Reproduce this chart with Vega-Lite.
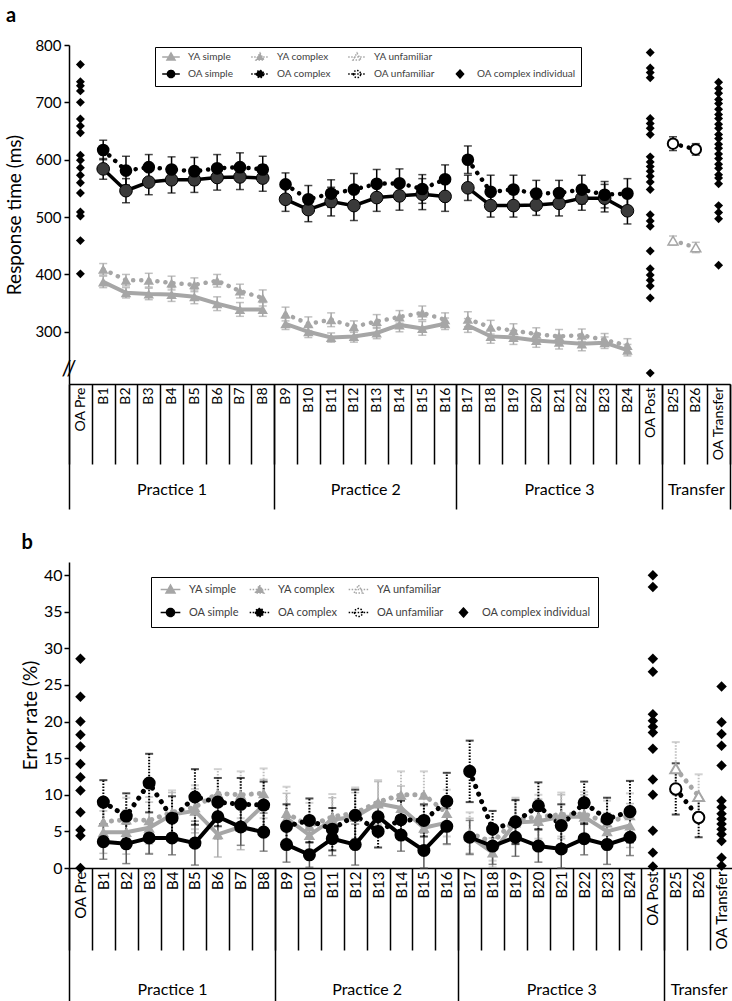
{
"$schema": "https://vega.github.io/schema/vega-lite/v6.json",
"padding": {"left": 5, "top": 6, "right": 0, "bottom": 0},
"config": {
  "font": "Lato",
  "view": {"stroke": null},
  "axis": {"grid": false, "domainColor": "black", "tickColor": "black", "labelColor": "black", "titleColor": "black", "titleFontWeight": "normal"},
  "legend": {"symbolOpacity": 1, "symbolFillColor": "white", "symbolStrokeColor": "black"},
  "title": {"color": "black"}
},
"datasets": {
"rt": [
{"block":"B1","series":"OA simple","grp":"P1","value":584,"err":18},
{"block":"B2","series":"OA simple","grp":"P1","value":546,"err":21},
{"block":"B3","series":"OA simple","grp":"P1","value":561,"err":22},
{"block":"B4","series":"OA simple","grp":"P1","value":565,"err":23},
{"block":"B5","series":"OA simple","grp":"P1","value":565,"err":22},
{"block":"B6","series":"OA simple","grp":"P1","value":569,"err":22},
{"block":"B7","series":"OA simple","grp":"P1","value":570,"err":22},
{"block":"B8","series":"OA simple","grp":"P1","value":568,"err":23},
{"block":"B9","series":"OA simple","grp":"P2","value":531,"err":21},
{"block":"B10","series":"OA simple","grp":"P2","value":513,"err":21},
{"block":"B11","series":"OA simple","grp":"P2","value":527,"err":25},
{"block":"B12","series":"OA simple","grp":"P2","value":520,"err":26},
{"block":"B13","series":"OA simple","grp":"P2","value":534,"err":24},
{"block":"B14","series":"OA simple","grp":"P2","value":537,"err":25},
{"block":"B15","series":"OA simple","grp":"P2","value":540,"err":27},
{"block":"B16","series":"OA simple","grp":"P2","value":536,"err":26},
{"block":"B17","series":"OA simple","grp":"P3","value":551,"err":22},
{"block":"B18","series":"OA simple","grp":"P3","value":520,"err":20},
{"block":"B19","series":"OA simple","grp":"P3","value":520,"err":20},
{"block":"B20","series":"OA simple","grp":"P3","value":521,"err":18},
{"block":"B21","series":"OA simple","grp":"P3","value":524,"err":22},
{"block":"B22","series":"OA simple","grp":"P3","value":533,"err":21},
{"block":"B23","series":"OA simple","grp":"P3","value":533,"err":24},
{"block":"B24","series":"OA simple","grp":"P3","value":511,"err":23},
{"block":"B1","series":"OA complex","grp":"P1","value":617,"err":17},
{"block":"B2","series":"OA complex","grp":"P1","value":581,"err":25},
{"block":"B3","series":"OA complex","grp":"P1","value":587,"err":22},
{"block":"B4","series":"OA complex","grp":"P1","value":583,"err":22},
{"block":"B5","series":"OA complex","grp":"P1","value":580,"err":24},
{"block":"B6","series":"OA complex","grp":"P1","value":585,"err":24},
{"block":"B7","series":"OA complex","grp":"P1","value":587,"err":25},
{"block":"B8","series":"OA complex","grp":"P1","value":583,"err":23},
{"block":"B9","series":"OA complex","grp":"P2","value":557,"err":20},
{"block":"B10","series":"OA complex","grp":"P2","value":531,"err":24},
{"block":"B11","series":"OA complex","grp":"P2","value":541,"err":24},
{"block":"B12","series":"OA complex","grp":"P2","value":548,"err":28},
{"block":"B13","series":"OA complex","grp":"P2","value":558,"err":25},
{"block":"B14","series":"OA complex","grp":"P2","value":559,"err":25},
{"block":"B15","series":"OA complex","grp":"P2","value":549,"err":25},
{"block":"B16","series":"OA complex","grp":"P2","value":566,"err":25},
{"block":"B17","series":"OA complex","grp":"P3","value":600,"err":24},
{"block":"B18","series":"OA complex","grp":"P3","value":544,"err":29},
{"block":"B19","series":"OA complex","grp":"P3","value":548,"err":25},
{"block":"B20","series":"OA complex","grp":"P3","value":541,"err":23},
{"block":"B21","series":"OA complex","grp":"P3","value":542,"err":22},
{"block":"B22","series":"OA complex","grp":"P3","value":548,"err":25},
{"block":"B23","series":"OA complex","grp":"P3","value":539,"err":23},
{"block":"B24","series":"OA complex","grp":"P3","value":541,"err":26},
{"block":"B1","series":"YA simple","grp":"P1","value":387,"err":10},
{"block":"B2","series":"YA simple","grp":"P1","value":368,"err":9},
{"block":"B3","series":"YA simple","grp":"P1","value":366,"err":10},
{"block":"B4","series":"YA simple","grp":"P1","value":365,"err":12},
{"block":"B5","series":"YA simple","grp":"P1","value":361,"err":12},
{"block":"B6","series":"YA simple","grp":"P1","value":349,"err":12},
{"block":"B7","series":"YA simple","grp":"P1","value":339,"err":12},
{"block":"B8","series":"YA simple","grp":"P1","value":339,"err":12},
{"block":"B9","series":"YA simple","grp":"P2","value":314,"err":10},
{"block":"B10","series":"YA simple","grp":"P2","value":300,"err":10},
{"block":"B11","series":"YA simple","grp":"P2","value":290,"err":8},
{"block":"B12","series":"YA simple","grp":"P2","value":292,"err":10},
{"block":"B13","series":"YA simple","grp":"P2","value":298,"err":10},
{"block":"B14","series":"YA simple","grp":"P2","value":312,"err":12},
{"block":"B15","series":"YA simple","grp":"P2","value":306,"err":12},
{"block":"B16","series":"YA simple","grp":"P2","value":314,"err":10},
{"block":"B17","series":"YA simple","grp":"P3","value":311,"err":12},
{"block":"B18","series":"YA simple","grp":"P3","value":292,"err":12},
{"block":"B19","series":"YA simple","grp":"P3","value":290,"err":12},
{"block":"B20","series":"YA simple","grp":"P3","value":285,"err":12},
{"block":"B21","series":"YA simple","grp":"P3","value":282,"err":12},
{"block":"B22","series":"YA simple","grp":"P3","value":279,"err":12},
{"block":"B23","series":"YA simple","grp":"P3","value":281,"err":10},
{"block":"B24","series":"YA simple","grp":"P3","value":268,"err":10},
{"block":"B1","series":"YA complex","grp":"P1","value":409,"err":10},
{"block":"B2","series":"YA complex","grp":"P1","value":390,"err":10},
{"block":"B3","series":"YA complex","grp":"P1","value":390,"err":12},
{"block":"B4","series":"YA complex","grp":"P1","value":385,"err":12},
{"block":"B5","series":"YA complex","grp":"P1","value":382,"err":12},
{"block":"B6","series":"YA complex","grp":"P1","value":389,"err":11},
{"block":"B7","series":"YA complex","grp":"P1","value":371,"err":12},
{"block":"B8","series":"YA complex","grp":"P1","value":359,"err":14},
{"block":"B9","series":"YA complex","grp":"P2","value":331,"err":12},
{"block":"B10","series":"YA complex","grp":"P2","value":314,"err":12},
{"block":"B11","series":"YA complex","grp":"P2","value":321,"err":12},
{"block":"B12","series":"YA complex","grp":"P2","value":309,"err":10},
{"block":"B13","series":"YA complex","grp":"P2","value":318,"err":12},
{"block":"B14","series":"YA complex","grp":"P2","value":326,"err":11},
{"block":"B15","series":"YA complex","grp":"P2","value":333,"err":12},
{"block":"B16","series":"YA complex","grp":"P2","value":321,"err":12},
{"block":"B17","series":"YA complex","grp":"P3","value":322,"err":13},
{"block":"B18","series":"YA complex","grp":"P3","value":308,"err":12},
{"block":"B19","series":"YA complex","grp":"P3","value":302,"err":12},
{"block":"B20","series":"YA complex","grp":"P3","value":296,"err":11},
{"block":"B21","series":"YA complex","grp":"P3","value":292,"err":12},
{"block":"B22","series":"YA complex","grp":"P3","value":294,"err":11},
{"block":"B23","series":"YA complex","grp":"P3","value":286,"err":11},
{"block":"B24","series":"YA complex","grp":"P3","value":276,"err":12},
{"block":"B25","series":"OA unfamiliar","grp":"T","value":628,"err":12},
{"block":"B26","series":"OA unfamiliar","grp":"T","value":618,"err":10},
{"block":"B25","series":"YA unfamiliar","grp":"T","value":459,"err":8},
{"block":"B26","series":"YA unfamiliar","grp":"T","value":447,"err":9},
{"block":"OA Pre","series":"OA complex individual","grp":"P1","value":766},
{"block":"OA Pre","series":"OA complex individual","grp":"P1","value":736},
{"block":"OA Pre","series":"OA complex individual","grp":"P1","value":729},
{"block":"OA Pre","series":"OA complex individual","grp":"P1","value":720},
{"block":"OA Pre","series":"OA complex individual","grp":"P1","value":700},
{"block":"OA Pre","series":"OA complex individual","grp":"P1","value":671},
{"block":"OA Pre","series":"OA complex individual","grp":"P1","value":659},
{"block":"OA Pre","series":"OA complex individual","grp":"P1","value":647},
{"block":"OA Pre","series":"OA complex individual","grp":"P1","value":608},
{"block":"OA Pre","series":"OA complex individual","grp":"P1","value":599},
{"block":"OA Pre","series":"OA complex individual","grp":"P1","value":586},
{"block":"OA Pre","series":"OA complex individual","grp":"P1","value":573},
{"block":"OA Pre","series":"OA complex individual","grp":"P1","value":560},
{"block":"OA Pre","series":"OA complex individual","grp":"P1","value":542},
{"block":"OA Pre","series":"OA complex individual","grp":"P1","value":509},
{"block":"OA Pre","series":"OA complex individual","grp":"P1","value":502},
{"block":"OA Pre","series":"OA complex individual","grp":"P1","value":459},
{"block":"OA Pre","series":"OA complex individual","grp":"P1","value":401},
{"block":"OA Post","series":"OA complex individual","grp":"P3","value":787},
{"block":"OA Post","series":"OA complex individual","grp":"P3","value":760},
{"block":"OA Post","series":"OA complex individual","grp":"P3","value":752},
{"block":"OA Post","series":"OA complex individual","grp":"P3","value":743},
{"block":"OA Post","series":"OA complex individual","grp":"P3","value":672},
{"block":"OA Post","series":"OA complex individual","grp":"P3","value":663},
{"block":"OA Post","series":"OA complex individual","grp":"P3","value":655},
{"block":"OA Post","series":"OA complex individual","grp":"P3","value":644},
{"block":"OA Post","series":"OA complex individual","grp":"P3","value":605},
{"block":"OA Post","series":"OA complex individual","grp":"P3","value":596},
{"block":"OA Post","series":"OA complex individual","grp":"P3","value":588},
{"block":"OA Post","series":"OA complex individual","grp":"P3","value":580},
{"block":"OA Post","series":"OA complex individual","grp":"P3","value":571},
{"block":"OA Post","series":"OA complex individual","grp":"P3","value":561},
{"block":"OA Post","series":"OA complex individual","grp":"P3","value":548},
{"block":"OA Post","series":"OA complex individual","grp":"P3","value":504},
{"block":"OA Post","series":"OA complex individual","grp":"P3","value":493},
{"block":"OA Post","series":"OA complex individual","grp":"P3","value":484},
{"block":"OA Post","series":"OA complex individual","grp":"P3","value":441},
{"block":"OA Post","series":"OA complex individual","grp":"P3","value":410},
{"block":"OA Post","series":"OA complex individual","grp":"P3","value":399},
{"block":"OA Post","series":"OA complex individual","grp":"P3","value":390},
{"block":"OA Post","series":"OA complex individual","grp":"P3","value":380},
{"block":"OA Post","series":"OA complex individual","grp":"P3","value":359},
{"block":"OA Post","series":"OA complex individual","grp":"P3","value":228},
{"block":"OA Transfer","series":"OA complex individual","grp":"T","value":735},
{"block":"OA Transfer","series":"OA complex individual","grp":"T","value":724},
{"block":"OA Transfer","series":"OA complex individual","grp":"T","value":716},
{"block":"OA Transfer","series":"OA complex individual","grp":"T","value":705},
{"block":"OA Transfer","series":"OA complex individual","grp":"T","value":698},
{"block":"OA Transfer","series":"OA complex individual","grp":"T","value":688},
{"block":"OA Transfer","series":"OA complex individual","grp":"T","value":679},
{"block":"OA Transfer","series":"OA complex individual","grp":"T","value":672},
{"block":"OA Transfer","series":"OA complex individual","grp":"T","value":662},
{"block":"OA Transfer","series":"OA complex individual","grp":"T","value":655},
{"block":"OA Transfer","series":"OA complex individual","grp":"T","value":644},
{"block":"OA Transfer","series":"OA complex individual","grp":"T","value":637},
{"block":"OA Transfer","series":"OA complex individual","grp":"T","value":627},
{"block":"OA Transfer","series":"OA complex individual","grp":"T","value":620},
{"block":"OA Transfer","series":"OA complex individual","grp":"T","value":610},
{"block":"OA Transfer","series":"OA complex individual","grp":"T","value":602},
{"block":"OA Transfer","series":"OA complex individual","grp":"T","value":592},
{"block":"OA Transfer","series":"OA complex individual","grp":"T","value":585},
{"block":"OA Transfer","series":"OA complex individual","grp":"T","value":574},
{"block":"OA Transfer","series":"OA complex individual","grp":"T","value":568},
{"block":"OA Transfer","series":"OA complex individual","grp":"T","value":558},
{"block":"OA Transfer","series":"OA complex individual","grp":"T","value":520},
{"block":"OA Transfer","series":"OA complex individual","grp":"T","value":508},
{"block":"OA Transfer","series":"OA complex individual","grp":"T","value":497},
{"block":"OA Transfer","series":"OA complex individual","grp":"T","value":416}
],
"er": [
{"block":"B1","series":"OA simple","grp":"P1","value":3.6,"err":2.4},
{"block":"B2","series":"OA simple","grp":"P1","value":3.3,"err":2.7},
{"block":"B3","series":"OA simple","grp":"P1","value":4.1,"err":2.2},
{"block":"B4","series":"OA simple","grp":"P1","value":4.1,"err":2.3},
{"block":"B5","series":"OA simple","grp":"P1","value":3.4,"err":3.0},
{"block":"B6","series":"OA simple","grp":"P1","value":7.0,"err":3.0},
{"block":"B7","series":"OA simple","grp":"P1","value":5.6,"err":2.5},
{"block":"B8","series":"OA simple","grp":"P1","value":4.9,"err":2.6},
{"block":"B9","series":"OA simple","grp":"P2","value":3.2,"err":2.4},
{"block":"B10","series":"OA simple","grp":"P2","value":1.8,"err":1.7},
{"block":"B11","series":"OA simple","grp":"P2","value":4.0,"err":2.3},
{"block":"B12","series":"OA simple","grp":"P2","value":3.2,"err":2.8},
{"block":"B13","series":"OA simple","grp":"P2","value":7.0,"err":2.0},
{"block":"B14","series":"OA simple","grp":"P2","value":4.5,"err":2.2},
{"block":"B15","series":"OA simple","grp":"P2","value":2.4,"err":2.4},
{"block":"B16","series":"OA simple","grp":"P2","value":5.7,"err":2.4},
{"block":"B17","series":"OA simple","grp":"P3","value":4.2,"err":2.3},
{"block":"B18","series":"OA simple","grp":"P3","value":3.0,"err":2.5},
{"block":"B19","series":"OA simple","grp":"P3","value":4.2,"err":2.6},
{"block":"B20","series":"OA simple","grp":"P3","value":3.0,"err":2.2},
{"block":"B21","series":"OA simple","grp":"P3","value":2.6,"err":2.6},
{"block":"B22","series":"OA simple","grp":"P3","value":4.0,"err":2.2},
{"block":"B23","series":"OA simple","grp":"P3","value":3.2,"err":2.7},
{"block":"B24","series":"OA simple","grp":"P3","value":4.2,"err":2.5},
{"block":"B1","series":"OA complex","grp":"P1","value":9.0,"err":3.0},
{"block":"B2","series":"OA complex","grp":"P1","value":7.1,"err":3.1},
{"block":"B3","series":"OA complex","grp":"P1","value":11.6,"err":4.0},
{"block":"B4","series":"OA complex","grp":"P1","value":6.8,"err":3.0},
{"block":"B5","series":"OA complex","grp":"P1","value":9.7,"err":3.8},
{"block":"B6","series":"OA complex","grp":"P1","value":9.0,"err":3.3},
{"block":"B7","series":"OA complex","grp":"P1","value":8.7,"err":3.6},
{"block":"B8","series":"OA complex","grp":"P1","value":8.6,"err":3.2},
{"block":"B9","series":"OA complex","grp":"P2","value":5.7,"err":3.0},
{"block":"B10","series":"OA complex","grp":"P2","value":6.5,"err":3.0},
{"block":"B11","series":"OA complex","grp":"P2","value":5.3,"err":2.9},
{"block":"B12","series":"OA complex","grp":"P2","value":7.2,"err":3.5},
{"block":"B13","series":"OA complex","grp":"P2","value":5.0,"err":2.2},
{"block":"B14","series":"OA complex","grp":"P2","value":6.6,"err":2.6},
{"block":"B15","series":"OA complex","grp":"P2","value":6.5,"err":2.2},
{"block":"B16","series":"OA complex","grp":"P2","value":9.1,"err":3.9},
{"block":"B17","series":"OA complex","grp":"P3","value":13.2,"err":4.2},
{"block":"B18","series":"OA complex","grp":"P3","value":5.3,"err":2.5},
{"block":"B19","series":"OA complex","grp":"P3","value":6.3,"err":3.0},
{"block":"B20","series":"OA complex","grp":"P3","value":8.5,"err":3.2},
{"block":"B21","series":"OA complex","grp":"P3","value":5.8,"err":2.9},
{"block":"B22","series":"OA complex","grp":"P3","value":8.9,"err":2.9},
{"block":"B23","series":"OA complex","grp":"P3","value":6.7,"err":2.9},
{"block":"B24","series":"OA complex","grp":"P3","value":7.7,"err":4.2},
{"block":"B1","series":"YA simple","grp":"P1","value":4.9,"err":2.9},
{"block":"B2","series":"YA simple","grp":"P1","value":4.9,"err":3.0},
{"block":"B3","series":"YA simple","grp":"P1","value":5.5,"err":3.5},
{"block":"B4","series":"YA simple","grp":"P1","value":7.3,"err":3.0},
{"block":"B5","series":"YA simple","grp":"P1","value":7.8,"err":3.0},
{"block":"B6","series":"YA simple","grp":"P1","value":4.6,"err":3.1},
{"block":"B7","series":"YA simple","grp":"P1","value":5.6,"err":3.1},
{"block":"B8","series":"YA simple","grp":"P1","value":8.6,"err":3.5},
{"block":"B9","series":"YA simple","grp":"P2","value":6.8,"err":3.4},
{"block":"B10","series":"YA simple","grp":"P2","value":4.5,"err":1.0},
{"block":"B11","series":"YA simple","grp":"P2","value":6.6,"err":3.0},
{"block":"B12","series":"YA simple","grp":"P2","value":7.0,"err":3.3},
{"block":"B13","series":"YA simple","grp":"P2","value":8.8,"err":3.0},
{"block":"B14","series":"YA simple","grp":"P2","value":8.2,"err":3.0},
{"block":"B15","series":"YA simple","grp":"P2","value":5.5,"err":3.0},
{"block":"B16","series":"YA simple","grp":"P2","value":6.2,"err":3.0},
{"block":"B17","series":"YA simple","grp":"P3","value":4.3,"err":2.5},
{"block":"B18","series":"YA simple","grp":"P3","value":2.1,"err":2.0},
{"block":"B19","series":"YA simple","grp":"P3","value":6.2,"err":3.0},
{"block":"B20","series":"YA simple","grp":"P3","value":6.4,"err":3.0},
{"block":"B21","series":"YA simple","grp":"P3","value":7.0,"err":3.0},
{"block":"B22","series":"YA simple","grp":"P3","value":7.0,"err":3.0},
{"block":"B23","series":"YA simple","grp":"P3","value":5.0,"err":2.5},
{"block":"B24","series":"YA simple","grp":"P3","value":5.8,"err":3.0},
{"block":"B1","series":"YA complex","grp":"P1","value":6.3,"err":3.0},
{"block":"B2","series":"YA complex","grp":"P1","value":6.6,"err":3.0},
{"block":"B3","series":"YA complex","grp":"P1","value":6.5,"err":3.2},
{"block":"B4","series":"YA complex","grp":"P1","value":7.6,"err":3.0},
{"block":"B5","series":"YA complex","grp":"P1","value":8.3,"err":3.0},
{"block":"B6","series":"YA complex","grp":"P1","value":10.2,"err":3.3},
{"block":"B7","series":"YA complex","grp":"P1","value":10.0,"err":3.2},
{"block":"B8","series":"YA complex","grp":"P1","value":10.2,"err":3.4},
{"block":"B9","series":"YA complex","grp":"P2","value":7.5,"err":3.6},
{"block":"B10","series":"YA complex","grp":"P2","value":5.7,"err":3.2},
{"block":"B11","series":"YA complex","grp":"P2","value":7.0,"err":3.1},
{"block":"B12","series":"YA complex","grp":"P2","value":7.5,"err":3.5},
{"block":"B13","series":"YA complex","grp":"P2","value":9.0,"err":3.0},
{"block":"B14","series":"YA complex","grp":"P2","value":10.0,"err":3.2},
{"block":"B15","series":"YA complex","grp":"P2","value":10.0,"err":3.2},
{"block":"B16","series":"YA complex","grp":"P2","value":7.5,"err":3.2},
{"block":"B17","series":"YA complex","grp":"P3","value":4.8,"err":2.8},
{"block":"B18","series":"YA complex","grp":"P3","value":3.5,"err":2.5},
{"block":"B19","series":"YA complex","grp":"P3","value":6.6,"err":3.0},
{"block":"B20","series":"YA complex","grp":"P3","value":7.0,"err":3.0},
{"block":"B21","series":"YA complex","grp":"P3","value":7.3,"err":3.0},
{"block":"B22","series":"YA complex","grp":"P3","value":7.4,"err":3.0},
{"block":"B23","series":"YA complex","grp":"P3","value":6.2,"err":3.0},
{"block":"B24","series":"YA complex","grp":"P3","value":7.2,"err":3.0},
{"block":"B25","series":"OA unfamiliar","grp":"T","value":10.8,"err":3.5},
{"block":"B26","series":"OA unfamiliar","grp":"T","value":6.9,"err":2.7},
{"block":"B25","series":"YA unfamiliar","grp":"T","value":13.6,"err":3.6},
{"block":"B26","series":"YA unfamiliar","grp":"T","value":9.8,"err":3.0},
{"block":"OA Pre","series":"OA complex individual","grp":"P1","value":28.6},
{"block":"OA Pre","series":"OA complex individual","grp":"P1","value":23.4},
{"block":"OA Pre","series":"OA complex individual","grp":"P1","value":20.0},
{"block":"OA Pre","series":"OA complex individual","grp":"P1","value":18.2},
{"block":"OA Pre","series":"OA complex individual","grp":"P1","value":16.6},
{"block":"OA Pre","series":"OA complex individual","grp":"P1","value":14.2},
{"block":"OA Pre","series":"OA complex individual","grp":"P1","value":12.4},
{"block":"OA Pre","series":"OA complex individual","grp":"P1","value":10.6},
{"block":"OA Pre","series":"OA complex individual","grp":"P1","value":7.6},
{"block":"OA Pre","series":"OA complex individual","grp":"P1","value":5.2},
{"block":"OA Pre","series":"OA complex individual","grp":"P1","value":4.4},
{"block":"OA Pre","series":"OA complex individual","grp":"P1","value":0},
{"block":"OA Post","series":"OA complex individual","grp":"P3","value":40.0},
{"block":"OA Post","series":"OA complex individual","grp":"P3","value":38.4},
{"block":"OA Post","series":"OA complex individual","grp":"P3","value":28.6},
{"block":"OA Post","series":"OA complex individual","grp":"P3","value":26.8},
{"block":"OA Post","series":"OA complex individual","grp":"P3","value":21.0},
{"block":"OA Post","series":"OA complex individual","grp":"P3","value":20.1},
{"block":"OA Post","series":"OA complex individual","grp":"P3","value":19.3},
{"block":"OA Post","series":"OA complex individual","grp":"P3","value":18.5},
{"block":"OA Post","series":"OA complex individual","grp":"P3","value":16.3},
{"block":"OA Post","series":"OA complex individual","grp":"P3","value":12.1},
{"block":"OA Post","series":"OA complex individual","grp":"P3","value":10.0},
{"block":"OA Post","series":"OA complex individual","grp":"P3","value":5.1},
{"block":"OA Post","series":"OA complex individual","grp":"P3","value":2.1},
{"block":"OA Post","series":"OA complex individual","grp":"P3","value":0.2},
{"block":"OA Transfer","series":"OA complex individual","grp":"T","value":24.8},
{"block":"OA Transfer","series":"OA complex individual","grp":"T","value":19.9},
{"block":"OA Transfer","series":"OA complex individual","grp":"T","value":18.3},
{"block":"OA Transfer","series":"OA complex individual","grp":"T","value":16.7},
{"block":"OA Transfer","series":"OA complex individual","grp":"T","value":14.0},
{"block":"OA Transfer","series":"OA complex individual","grp":"T","value":9.2},
{"block":"OA Transfer","series":"OA complex individual","grp":"T","value":8.3},
{"block":"OA Transfer","series":"OA complex individual","grp":"T","value":7.4},
{"block":"OA Transfer","series":"OA complex individual","grp":"T","value":6.7},
{"block":"OA Transfer","series":"OA complex individual","grp":"T","value":6.0},
{"block":"OA Transfer","series":"OA complex individual","grp":"T","value":5.3},
{"block":"OA Transfer","series":"OA complex individual","grp":"T","value":4.6},
{"block":"OA Transfer","series":"OA complex individual","grp":"T","value":3.7},
{"block":"OA Transfer","series":"OA complex individual","grp":"T","value":1.4},
{"block":"OA Transfer","series":"OA complex individual","grp":"T","value":0.3}
]
},
"spacing": 23,
"resolve": {
  "scale": {"shape": "independent", "fill": "independent", "stroke": "independent", "strokeDash": "independent"},
  "legend": {"shape": "independent", "fill": "independent", "stroke": "independent", "strokeDash": "independent"}
},
"vconcat": [
{
  "title": {"text": "a", "anchor": "start", "frame": "bounds", "fontSize": 20, "fontWeight": "bold", "offset": 12},
  "width": 661,
  "height": 339,
  "data": {"name": "rt"},
  "resolve": {"scale": {"x": "independent"}, "axis": {"x": "independent"}},
  "layer": [
    {
      "encoding": {
        "x": {"field": "block", "type": "nominal",
          "scale": {"type": "band", "domain": ["OA Pre","B1","B2","B3","B4","B5","B6","B7","B8","B9","B10","B11","B12","B13","B14","B15","B16","B17","B18","B19","B20","B21","B22","B23","B24","OA Post","B25","B26","OA Transfer"], "paddingInner": 0, "paddingOuter": 0},
          "axis": {"title": null, "labelAngle": -90, "labelAlign": "right", "labelBaseline": "middle", "labelFontSize": 14, "tickBand": "extent", "tickSize": 80, "tickWidth": 1.5, "domainWidth": 1.5, "labelPadding": -77, "labelOverlap": false}},
        "y": {"field": "value", "type": "quantitative",
          "scale": {"domain": [209, 800], "nice": false, "zero": false},
          "axis": {"title": "Response time (ms)", "values": [300,400,500,600,700,800], "labelFontSize": 15, "titleFontSize": 19, "tickSize": 5, "tickWidth": 1.5, "domainWidth": 1.5, "titlePadding": 10, "labelPadding": 3}}
      },
      "layer": [
        {"transform": [{"filter": "datum.err != null && test(/^YA/, datum.series)"}],
         "mark": {"type": "errorbar", "ticks": true, "size": 8, "thickness": 1.5, "color": "#a6a6a6"},
         "encoding": {"yError": {"field": "err"}}},
        {"transform": [{"filter": "datum.err != null && test(/^OA/, datum.series)"}],
         "mark": {"type": "errorbar", "ticks": true, "size": 8, "thickness": 1.5, "color": "black"},
         "encoding": {"yError": {"field": "err"}}},
        {"transform": [{"filter": "datum.series == 'YA simple'"}],
         "mark": {"type": "line", "color": "#a6a6a6", "strokeWidth": 4},
         "encoding": {"detail": {"field": "grp"}}},
        {"transform": [{"filter": "datum.series == 'YA complex' || datum.series == 'YA unfamiliar'"}],
         "mark": {"type": "line", "color": "#a6a6a6", "strokeWidth": 4.5, "strokeDash": [0.1, 8], "strokeCap": "round"},
         "encoding": {"detail": [{"field": "grp"}, {"field": "series"}]}},
        {"transform": [{"filter": "datum.series == 'OA simple'"}],
         "mark": {"type": "line", "color": "black", "strokeWidth": 3.5},
         "encoding": {"detail": {"field": "grp"}}},
        {"transform": [{"filter": "datum.series == 'OA complex' || datum.series == 'OA unfamiliar'"}],
         "mark": {"type": "line", "color": "black", "strokeWidth": 4.5, "strokeDash": [0.1, 8], "strokeCap": "round"},
         "encoding": {"detail": [{"field": "grp"}, {"field": "series"}]}},
        {"transform": [{"filter": "datum.series == 'YA simple' || datum.series == 'YA complex'"}],
         "mark": {"type": "point", "shape": "triangle-up", "filled": true, "color": "#a6a6a6", "size": 110, "opacity": 1}},
        {"transform": [{"filter": "datum.series == 'YA unfamiliar'"}],
         "mark": {"type": "point", "shape": "triangle-up", "filled": true, "fill": "white", "stroke": "#a6a6a6", "strokeWidth": 1.5, "size": 100, "opacity": 1}},
        {"transform": [{"filter": "datum.series == 'OA simple'"}],
         "mark": {"type": "point", "shape": "circle", "filled": true, "fill": "#3a3a3a", "stroke": "black", "strokeWidth": 1, "size": 160, "opacity": 1}},
        {"transform": [{"filter": "datum.series == 'OA complex'"}],
         "mark": {"type": "point", "shape": "circle", "filled": true, "color": "black", "size": 160, "opacity": 1}},
        {"transform": [{"filter": "datum.series == 'OA unfamiliar'"}],
         "mark": {"type": "point", "shape": "circle", "filled": true, "fill": "white", "stroke": "black", "strokeWidth": 2, "size": 110, "opacity": 1}},
        {"transform": [{"filter": "datum.series == 'OA complex individual'"}],
         "mark": {"type": "point", "shape": "diamond", "filled": true, "color": "black", "size": 80, "opacity": 1}},
        {"mark": {"type": "point", "filled": true, "opacity": 0},
         "encoding": {
           "shape": {"field": "series", "type": "nominal",
             "scale": {"domain": ["YA simple","YA complex","YA unfamiliar"," ","OA simple","OA complex","OA unfamiliar","OA complex individual"],
               "range": ["M-2.2,0H2.2M0,-1L1,0.75H-1Z","M-2.2,0H2.2M0,-1L1,0.75H-1Z","M-2.2,0H2.2M0,-1L1,0.75H-1Z","M0,0L0,0","M-2.2,0H2.2M-0.9,0A0.9,0.9 0 1,0 0.9,0A0.9,0.9 0 1,0 -0.9,0Z","M-2.2,0H2.2M-0.9,0A0.9,0.9 0 1,0 0.9,0A0.9,0.9 0 1,0 -0.9,0Z","M-2.2,0H2.2M-0.9,0A0.9,0.9 0 1,0 0.9,0A0.9,0.9 0 1,0 -0.9,0Z","M0,-1L0.9,0L0,1L-0.9,0Z"]},
             "legend": {"title": null, "orient": "none", "legendX": 86, "legendY": 2, "direction": "horizontal", "columns": 4, "strokeColor": "black", "padding": 5, "rowPadding": 4, "columnPadding": 14, "symbolSize": 64, "symbolStrokeWidth": 1.5, "symbolOffset": 6, "labelOffset": 12, "labelFontSize": 10, "labelColor": "#404040", "labelLimit": 200}},
           "fill": {"field": "series", "type": "nominal",
             "scale": {"domain": ["YA simple","YA complex","YA unfamiliar"," ","OA simple","OA complex","OA unfamiliar","OA complex individual"],
               "range": ["#a6a6a6","#a6a6a6","white","transparent","black","black","white","black"]},
             "legend": {"title": null, "orient": "none", "legendX": 86, "legendY": 2, "direction": "horizontal", "columns": 4, "strokeColor": "black", "padding": 5, "rowPadding": 4, "columnPadding": 14, "symbolSize": 64, "symbolStrokeWidth": 1.5, "symbolOffset": 6, "labelOffset": 12, "labelFontSize": 10, "labelColor": "#404040", "labelLimit": 200}},
           "stroke": {"field": "series", "type": "nominal",
             "scale": {"domain": ["YA simple","YA complex","YA unfamiliar"," ","OA simple","OA complex","OA unfamiliar","OA complex individual"],
               "range": ["#a6a6a6","#a6a6a6","#a6a6a6","transparent","black","black","black","black"]},
             "legend": {"title": null, "orient": "none", "legendX": 86, "legendY": 2, "direction": "horizontal", "columns": 4, "strokeColor": "black", "padding": 5, "rowPadding": 4, "columnPadding": 14, "symbolSize": 64, "symbolStrokeWidth": 1.5, "symbolOffset": 6, "labelOffset": 12, "labelFontSize": 10, "labelColor": "#404040", "labelLimit": 200}},
           "strokeDash": {"field": "series", "type": "nominal",
             "scale": {"domain": ["YA simple","YA complex","YA unfamiliar"," ","OA simple","OA complex","OA unfamiliar","OA complex individual"],
               "range": [[1,0],[1.5,1.5],[1.5,1.5],[1,0],[1,0],[1.5,1.5],[1.5,1.5],[1,0]]},
             "legend": {"title": null, "orient": "none", "legendX": 86, "legendY": 2, "direction": "horizontal", "columns": 4, "strokeColor": "black", "padding": 5, "rowPadding": 4, "columnPadding": 14, "symbolSize": 64, "symbolStrokeWidth": 1.5, "symbolOffset": 6, "labelOffset": 12, "labelFontSize": 10, "labelColor": "#404040", "labelLimit": 200}}
         }}
      ]
    },
    {
      "data": {"values": [{}]},
      "mark": {"type": "text", "text": "//", "fontSize": 22, "color": "black", "align": "center", "baseline": "middle"},
      "encoding": {
        "x": {"datum": 0, "type": "quantitative",
          "scale": {"domain": [0, 29], "nice": false, "zero": false},
          "axis": {"orient": "bottom", "title": null, "values": [0, 4.5, 9, 13, 17, 21.5, 26, 27.5, 29],
            "labelExpr": "datum.value == 4.5 ? 'Practice 1' : datum.value == 13 ? 'Practice 2' : datum.value == 21.5 ? 'Practice 3' : datum.value == 27.5 ? 'Transfer' : ''",
            "tickOpacity": {"condition": {"test": "datum.value == 4.5 || datum.value == 13 || datum.value == 21.5 || datum.value == 27.5", "value": 0}, "value": 1},
            "tickSize": 125, "tickWidth": 1.5, "domain": false, "labelAngle": 0, "labelAlign": "center", "labelBaseline": "top", "labelPadding": -28, "labelFontSize": 16, "labelFlush": false, "labelOverlap": false}},
        "y": {"datum": 236, "type": "quantitative"}
      }
    }
  ]
},
{
  "title": {"text": "b", "anchor": "start", "frame": "bounds", "fontSize": 20, "fontWeight": "bold", "offset": 9},
  "width": 664,
  "height": 306,
  "data": {"name": "er"},
  "resolve": {"scale": {"x": "independent"}, "axis": {"x": "independent"}},
  "layer": [
    {
      "encoding": {
        "x": {"field": "block", "type": "nominal",
          "scale": {"type": "band", "domain": ["OA Pre","B1","B2","B3","B4","B5","B6","B7","B8","B9","B10","B11","B12","B13","B14","B15","B16","B17","B18","B19","B20","B21","B22","B23","B24","OA Post","B25","B26","OA Transfer"], "paddingInner": 0, "paddingOuter": 0},
          "axis": {"title": null, "labelAngle": -90, "labelAlign": "right", "labelBaseline": "middle", "labelFontSize": 15, "tickBand": "extent", "tickSize": 82, "tickWidth": 1.5, "domainWidth": 1.5, "labelPadding": -79, "labelOverlap": false}},
        "y": {"field": "value", "type": "quantitative",
          "scale": {"domain": [0, 41.8], "nice": false, "zero": false},
          "axis": {"title": "Error rate (%)", "values": [0,5,10,15,20,25,30,35,40], "labelFontSize": 16, "titleFontSize": 19, "tickSize": 5, "tickWidth": 1.5, "domainWidth": 1.5, "titlePadding": 3, "labelPadding": 2}}
      },
      "layer": [
        {"transform": [{"filter": "datum.series == 'YA simple'"}],
         "mark": {"type": "errorbar", "ticks": true, "size": 8, "thickness": 1.5, "color": "#a6a6a6"},
         "encoding": {"yError": {"field": "err"}}},
        {"transform": [{"filter": "datum.series == 'YA complex' || datum.series == 'YA unfamiliar'"}],
         "mark": {"type": "errorbar", "ticks": {"strokeDash": [1.5, 1.5]}, "rule": {"strokeDash": [1.5, 1.5]}, "size": 8, "thickness": 2, "color": "#bfbfbf"},
         "encoding": {"yError": {"field": "err"}}},
        {"transform": [{"filter": "datum.series == 'OA simple'"}],
         "mark": {"type": "errorbar", "ticks": true, "size": 8, "thickness": 1.5, "color": "#595959"},
         "encoding": {"yError": {"field": "err"}}},
        {"transform": [{"filter": "datum.series == 'OA complex' || datum.series == 'OA unfamiliar'"}],
         "mark": {"type": "errorbar", "ticks": {"strokeDash": [1.5, 1.5]}, "rule": {"strokeDash": [1.5, 1.5]}, "size": 8, "thickness": 2, "color": "black"},
         "encoding": {"yError": {"field": "err"}}},
        {"transform": [{"filter": "datum.series == 'YA simple'"}],
         "mark": {"type": "line", "color": "#a6a6a6", "strokeWidth": 4},
         "encoding": {"detail": {"field": "grp"}}},
        {"transform": [{"filter": "datum.series == 'YA complex' || datum.series == 'YA unfamiliar'"}],
         "mark": {"type": "line", "color": "#a6a6a6", "strokeWidth": 5, "strokeDash": [0.1, 8], "strokeCap": "round"},
         "encoding": {"detail": [{"field": "grp"}, {"field": "series"}]}},
        {"transform": [{"filter": "datum.series == 'OA simple'"}],
         "mark": {"type": "line", "color": "black", "strokeWidth": 4},
         "encoding": {"detail": {"field": "grp"}}},
        {"transform": [{"filter": "datum.series == 'OA complex' || datum.series == 'OA unfamiliar'"}],
         "mark": {"type": "line", "color": "black", "strokeWidth": 5, "strokeDash": [0.1, 8], "strokeCap": "round"},
         "encoding": {"detail": [{"field": "grp"}, {"field": "series"}]}},
        {"transform": [{"filter": "datum.series == 'YA simple' || datum.series == 'YA complex'"}],
         "mark": {"type": "point", "shape": "triangle-up", "filled": true, "color": "#a6a6a6", "size": 130, "opacity": 1}},
        {"transform": [{"filter": "datum.series == 'YA unfamiliar'"}],
         "mark": {"type": "point", "shape": "triangle-up", "filled": true, "fill": "white", "stroke": "#a6a6a6", "strokeWidth": 2, "size": 120, "opacity": 1}},
        {"transform": [{"filter": "datum.series == 'OA simple'"}],
         "mark": {"type": "point", "shape": "circle", "filled": true, "color": "black", "size": 170, "opacity": 1}},
        {"transform": [{"filter": "datum.series == 'OA complex'"}],
         "mark": {"type": "point", "shape": "circle", "filled": true, "color": "black", "size": 170, "opacity": 1}},
        {"transform": [{"filter": "datum.series == 'OA unfamiliar'"}],
         "mark": {"type": "point", "shape": "circle", "filled": true, "fill": "white", "stroke": "black", "strokeWidth": 2, "size": 130, "opacity": 1}},
        {"transform": [{"filter": "datum.series == 'OA complex individual'"}],
         "mark": {"type": "point", "shape": "diamond", "filled": true, "color": "black", "size": 110, "opacity": 1}},
        {"mark": {"type": "point", "filled": true, "opacity": 0},
         "encoding": {
           "shape": {"field": "series", "type": "nominal",
             "scale": {"domain": ["YA simple","YA complex","YA unfamiliar"," ","OA simple","OA complex","OA unfamiliar","OA complex individual"],
               "range": ["M-2.2,0H2.2M0,-1L1,0.75H-1Z","M-2.2,0H2.2M0,-1L1,0.75H-1Z","M-2.2,0H2.2M0,-1L1,0.75H-1Z","M0,0L0,0","M-2.2,0H2.2M-0.9,0A0.9,0.9 0 1,0 0.9,0A0.9,0.9 0 1,0 -0.9,0Z","M-2.2,0H2.2M-0.9,0A0.9,0.9 0 1,0 0.9,0A0.9,0.9 0 1,0 -0.9,0Z","M-2.2,0H2.2M-0.9,0A0.9,0.9 0 1,0 0.9,0A0.9,0.9 0 1,0 -0.9,0Z","M0,-1L0.9,0L0,1L-0.9,0Z"]},
             "legend": {"title": null, "orient": "none", "legendX": 82, "legendY": 15, "direction": "horizontal", "columns": 4, "strokeColor": "black", "padding": 7, "rowPadding": 9, "columnPadding": 7, "symbolSize": 80, "symbolStrokeWidth": 1.5, "symbolOffset": 7, "labelOffset": 13, "labelFontSize": 11, "labelColor": "#404040", "labelLimit": 200}},
           "fill": {"field": "series", "type": "nominal",
             "scale": {"domain": ["YA simple","YA complex","YA unfamiliar"," ","OA simple","OA complex","OA unfamiliar","OA complex individual"],
               "range": ["#a6a6a6","#a6a6a6","white","transparent","black","black","white","black"]},
             "legend": {"title": null, "orient": "none", "legendX": 82, "legendY": 15, "direction": "horizontal", "columns": 4, "strokeColor": "black", "padding": 7, "rowPadding": 9, "columnPadding": 7, "symbolSize": 80, "symbolStrokeWidth": 1.5, "symbolOffset": 7, "labelOffset": 13, "labelFontSize": 11, "labelColor": "#404040", "labelLimit": 200}},
           "stroke": {"field": "series", "type": "nominal",
             "scale": {"domain": ["YA simple","YA complex","YA unfamiliar"," ","OA simple","OA complex","OA unfamiliar","OA complex individual"],
               "range": ["#a6a6a6","#a6a6a6","#a6a6a6","transparent","black","black","black","black"]},
             "legend": {"title": null, "orient": "none", "legendX": 82, "legendY": 15, "direction": "horizontal", "columns": 4, "strokeColor": "black", "padding": 7, "rowPadding": 9, "columnPadding": 7, "symbolSize": 80, "symbolStrokeWidth": 1.5, "symbolOffset": 7, "labelOffset": 13, "labelFontSize": 11, "labelColor": "#404040", "labelLimit": 200}},
           "strokeDash": {"field": "series", "type": "nominal",
             "scale": {"domain": ["YA simple","YA complex","YA unfamiliar"," ","OA simple","OA complex","OA unfamiliar","OA complex individual"],
               "range": [[1,0],[1.5,1.5],[1.5,1.5],[1,0],[1,0],[1.5,1.5],[1.5,1.5],[1,0]]},
             "legend": {"title": null, "orient": "none", "legendX": 82, "legendY": 15, "direction": "horizontal", "columns": 4, "strokeColor": "black", "padding": 7, "rowPadding": 9, "columnPadding": 7, "symbolSize": 80, "symbolStrokeWidth": 1.5, "symbolOffset": 7, "labelOffset": 13, "labelFontSize": 11, "labelColor": "#404040", "labelLimit": 200}}
         }}
      ]
    },
    {
      "data": {"values": [{}]},
      "mark": {"type": "rule", "opacity": 0},
      "encoding": {
        "x": {"datum": 0, "type": "quantitative",
          "scale": {"domain": [0, 29], "nice": false, "zero": false},
          "axis": {"orient": "bottom", "title": null, "values": [0, 4.5, 9, 13, 17, 21.5, 26, 27.5, 29],
            "labelExpr": "datum.value == 4.5 ? 'Practice 1' : datum.value == 13 ? 'Practice 2' : datum.value == 21.5 ? 'Practice 3' : datum.value == 27.5 ? 'Transfer' : ''",
            "tickOpacity": {"condition": {"test": "datum.value == 4.5 || datum.value == 13 || datum.value == 21.5 || datum.value == 27.5", "value": 0}, "value": 1},
            "tickSize": 133, "tickWidth": 1.5, "domain": false, "labelAngle": 0, "labelAlign": "center", "labelBaseline": "top", "labelPadding": -20, "labelFontSize": 16, "labelFlush": false, "labelOverlap": false}}
      }
    }
  ]
}
]
}
